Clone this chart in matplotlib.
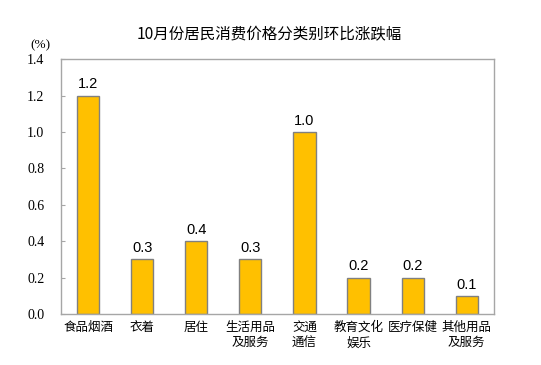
import matplotlib
matplotlib.use('Agg')
import matplotlib.pyplot as plt

plt.rcParams['font.family'] = ['Noto Sans CJK SC', 'DejaVu Sans']

# Data
categories = ['食品烟酒', '衣着', '居住', '生活用品\n及服务', '交通\n通信',
              '教育文化\n娱乐', '医疗保健', '其他用品\n及服务']
values = [1.2, 0.3, 0.4, 0.3, 1.0, 0.2, 0.2, 0.1]
yticks = [0.0, 0.2, 0.4, 0.6, 0.8, 1.0, 1.2, 1.4]

fig = plt.figure(figsize=(5.41, 3.65), dpi=100)
ax = fig.add_axes([0.1128, 0.140, 0.8, 0.698])

x = range(len(categories))
bars = ax.bar(x, values, width=0.41, color='#FFC000', edgecolor='#808080', linewidth=1.0)

for xi, v in zip(x, values):
    ax.annotate(f'{v:.1f}', (xi, v), xytext=(0, 3), textcoords='offset points',
                ha='center', va='bottom', fontsize=10.5, family=['Liberation Sans'])

ax.set_xlim(-0.5, len(categories) - 0.5)
ax.set_ylim(0, 1.4)
ax.set_yticks(yticks)
ax.set_yticklabels([f'{t:.1f}' for t in yticks])
for lab in ax.get_yticklabels():
    lab.set_fontfamily(['Liberation Serif'])
    lab.set_fontsize(10)
ax.set_xticks(list(x))
ax.set_xticklabels(categories, fontsize=9, linespacing=1.25, va='top')

for sp in ax.spines.values():
    sp.set_color('#A6A6A6')
    sp.set_linewidth(1.0)

ax.tick_params(axis='x', length=0, pad=5)
ax.tick_params(axis='y', direction='in', length=3, color='#A6A6A6', pad=12)

fig.text(0.497, 0.905, '10月份居民消费价格分类别环比涨跌幅', ha='center', va='center', fontsize=11.2)
fig.text(0.075, 0.877, '(%)', ha='center', va='center', fontsize=9.5, family=['Liberation Serif'])

fig.savefig('out.png', dpi=100)
